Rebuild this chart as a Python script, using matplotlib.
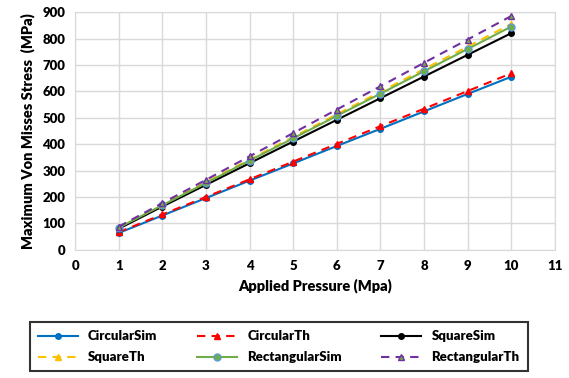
import matplotlib as mpl
mpl.use('Agg')
import matplotlib.pyplot as plt

pressure = [1, 2, 3, 4, 5, 6, 7, 8, 9, 10]
circ_sim = [64, 130, 196, 262, 327, 393, 458, 524, 590, 655]
circ_th = [67, 134, 200, 267, 334, 401, 468, 534, 601, 668]
sq_sim = [80, 164, 246, 328, 410, 492, 574, 656, 738, 820]
sq_th = [85, 171, 256, 342, 427, 513, 598, 684, 769, 855]
rect_sim = [84, 169, 253, 338, 422, 507, 591, 676, 760, 845]
rect_th = [88, 177, 265, 354, 442, 531, 619, 708, 796, 885]

plt.rcParams['font.family'] = ['Lato', 'DejaVu Sans']
plt.rcParams['font.weight'] = 'heavy'

fig = plt.figure(figsize=(5.69, 3.78), dpi=100)
ax = fig.add_axes([0.132, 0.339, 0.843, 0.629])

lines = []
lines += ax.plot(pressure, circ_sim, color='#0070C0', lw=1.5, marker='o', ms=4, label='CircularSim')
lines += ax.plot(pressure, circ_th, color='#FF0000', lw=1.5, ls=(0, (4, 3)), marker='^', ms=5, label='CircularTh')
lines += ax.plot(pressure, sq_sim, color='black', lw=1.5, marker='o', ms=4, label='SquareSim')
lines += ax.plot(pressure, sq_th, color='#FFC000', lw=1.5, ls=(0, (4, 3)), marker='^', ms=5, label='SquareTh')
lines += ax.plot(pressure, rect_sim, color='#70AD47', lw=1.5, marker='o', ms=5, mfc='#70AD47', mec='#5B9BD5', label='RectangularSim')
lines += ax.plot(pressure, rect_th, color='#7030A0', lw=1.5, ls=(0, (4, 3)), marker='^', ms=5, mfc='#70AD47', mec='#7030A0', label='RectangularTh')

ax.set_xlim(0, 11)
ax.set_ylim(0, 900)
ax.set_xticks(range(0, 12))
ax.set_yticks(range(0, 901, 100))
ax.grid(True, color='#d9d9d9', lw=1)
ax.set_axisbelow(True)
for s in ax.spines.values():
    s.set_color('#d9d9d9')
ax.tick_params(length=0, labelsize=9.5, pad=7)
for lab in ax.get_xticklabels() + ax.get_yticklabels():
    lab.set_fontweight('heavy')

ax.set_xlabel('Applied Pressure (Mpa)', fontsize=10.5, fontweight='heavy', labelpad=5)
ax.set_ylabel('Maximum Von Misses Stress  (MPa)', fontsize=10.5, fontweight='heavy', labelpad=5)

order = [0, 3, 1, 4, 2, 5]
leg = fig.legend([lines[i] for i in order], [lines[i].get_label() for i in order],
                 ncol=3, loc='lower center', bbox_to_anchor=(0.49, 0.0),
                 frameon=True, fancybox=False, edgecolor='black', fontsize=9.5,
                 columnspacing=3.0, handlelength=3.0, borderpad=0.6, labelspacing=0.7)
leg.get_frame().set_linewidth(1.5)
for t in leg.get_texts():
    t.set_fontweight('heavy')

fig.savefig('out.png', dpi=100)
